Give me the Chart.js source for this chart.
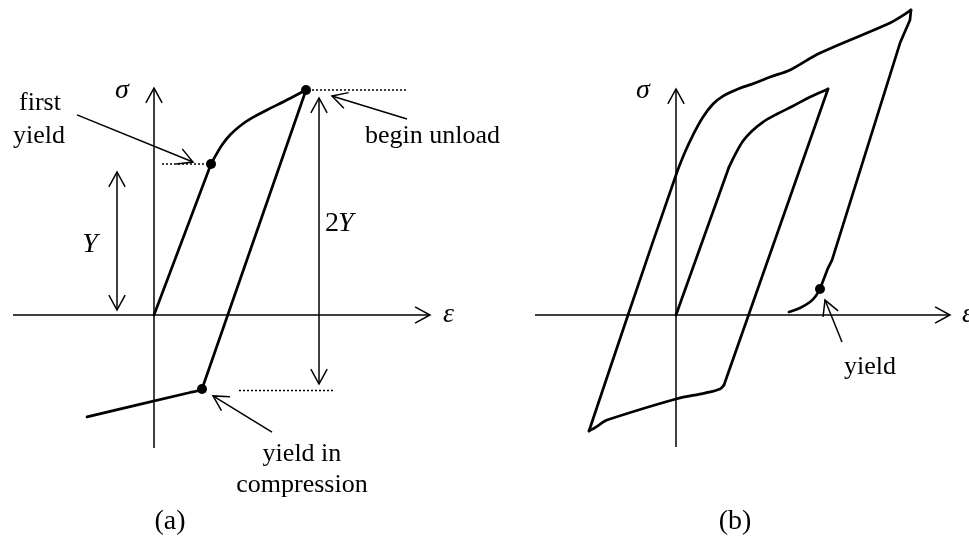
<!DOCTYPE html>
<html>
<head>
<meta charset="utf-8">
<script src="https://cdn.jsdelivr.net/npm/chart.js@4.4.1/dist/chart.umd.min.js"></script>
<style>
  html, body { margin: 0; padding: 0; background: #fff; }
  #wrap { position: relative; width: 969px; height: 540px; overflow: hidden; }
  canvas { position: absolute; top: 0; }
  #panelA { left: 0; }
  #panelB { left: 484px; }
</style>
</head>
<body>
<div id="wrap">
  <canvas id="panelA" width="560" height="540"></canvas>
  <canvas id="panelB" width="485" height="540"></canvas>
</div>
<script>
// strain in units of the first-yield strain, stress in units of Y

// (a) one tension / compression excursion
const aElastic = [[0, 0], [1.0, 1.0]];
const aHarden = [[1.0, 1.0], [1.088, 1.060], [1.193, 1.126], [1.333, 1.192], [1.509, 1.252],
                 [1.719, 1.305], [1.982, 1.358], [2.298, 1.417], [2.667, 1.49]];
const aUnload = [[2.667, 1.49], [0.842, -0.49]];
const aCompress = [[0.842, -0.49], [0.754, -0.503], [0.632, -0.513], [-1.175, -0.675]];
const aMarks = [[1.0, 1.0], [2.667, 1.49], [0.842, -0.49]];

// (b) cyclic loops
const bInner = [[0, 0], [0.930, 0.980]];
const bInnerHarden = [[0.930, 0.980], [1.035, 1.060], [1.175, 1.152], [1.333, 1.219], [1.526, 1.278],
                      [1.772, 1.331], [2.053, 1.384], [2.351, 1.444], [2.667, 1.497]];
const bInnerUnload = [[2.667, 1.497], [0.842, -0.464]];
const bCompress = [[0.842, -0.464], [0.772, -0.490], [0.509, -0.517], [0, -0.556], [-1.211, -0.695],
                   [-1.298, -0.715], [-1.404, -0.742], [-1.526, -0.768]];
const bOuterLoad = [[-1.526, -0.768], [-0.842, 0], [0, 0.927], [0.158, 1.079], [0.298, 1.192],
                    [0.474, 1.311], [0.649, 1.397], [0.825, 1.450], [1.088, 1.497], [1.386, 1.536],
                    [1.649, 1.576], [2.0, 1.623], [2.526, 1.735], [3.754, 1.934], [4.018, 1.993], [4.123, 2.020]];
const bOuterUnload = [[4.123, 2.020], [4.105, 1.954], [3.930, 1.801], [2.737, 0.364], [2.667, 0.311], [2.526, 0.172]];
const bReload = [[2.526, 0.172], [2.439, 0.119], [2.351, 0.086], [2.175, 0.046], [1.982, 0.020]];
const bMarks = [[2.526, 0.172]];

// pixels per unit on both panels
const PX_EPS = 57, PX_SIG = 151;

const pts = arr => arr.map(p => ({ x: p[0], y: p[1] }));

function curve(data, smooth) {
  return { data: pts(data), showLine: true, pointRadius: 0, borderColor: '#000',
           borderWidth: 2.7, tension: smooth ? 0.35 : 0, borderCapStyle: 'round', borderJoinStyle: 'round' };
}
function thin(data, heads) {
  return { data: pts(data), showLine: true, pointRadius: 0, borderColor: '#000',
           borderWidth: 1.5, heads: heads || [] };
}
function dotted(data) {
  return { data: pts(data), showLine: true, pointRadius: 0, borderColor: '#000',
           borderWidth: 1.5, borderDash: [2, 2] };
}
function marks(data) {
  return { data: pts(data), showLine: false, pointRadius: 5, pointBackgroundColor: '#000',
           pointBorderColor: '#000', pointBorderWidth: 0 };
}

// open V heads on the ends of thin lines
const arrowHeads = {
  id: 'arrowHeads',
  afterDatasetsDraw(chart) {
    const { ctx, scales: { x, y } } = chart;
    const L = 17, A = 0.5;
    chart.data.datasets.forEach(ds => {
      if (!ds.heads) return;
      ds.heads.forEach(end => {
        const n = ds.data.length;
        const tip = end === 'end' ? ds.data[n - 1] : ds.data[0];
        const base = end === 'end' ? ds.data[n - 2] : ds.data[1];
        const tx = x.getPixelForValue(tip.x), ty = y.getPixelForValue(tip.y);
        const bx = x.getPixelForValue(base.x), by = y.getPixelForValue(base.y);
        const ang = Math.atan2(ty - by, tx - bx);
        ctx.save();
        ctx.strokeStyle = '#000';
        ctx.lineWidth = ds.borderWidth;
        ctx.beginPath();
        ctx.moveTo(tx - L * Math.cos(ang - A), ty - L * Math.sin(ang - A));
        ctx.lineTo(tx, ty);
        ctx.lineTo(tx - L * Math.cos(ang + A), ty - L * Math.sin(ang + A));
        ctx.stroke();
        ctx.restore();
      });
    });
  }
};

// labels placed in data units
const figText = {
  id: 'figText',
  afterDraw(chart, args, opts) {
    const { ctx, scales: { x, y } } = chart;
    (opts.items || []).forEach(it => {
      ctx.save();
      ctx.fillStyle = '#000';
      ctx.font = it.font || '26px "Liberation Serif"';
      ctx.textAlign = it.align || 'center';
      ctx.textBaseline = 'middle';
      ctx.fillText(it.t, x.getPixelForValue(it.x), y.getPixelForValue(it.y));
      ctx.restore();
    });
  }
};

const SERIF = '26px "Liberation Serif"';
const ITAL = 'italic 28px "Liberation Serif"';

function makePanel(id, originX, originY, width, height, datasets, items) {
  return new Chart(document.getElementById(id), {
    type: 'scatter',
    data: { datasets: datasets },
    options: {
      responsive: false,
      animation: false,
      events: [],
      layout: { padding: 0, autoPadding: false },
      scales: {
        x: { type: 'linear', display: false, min: -originX / PX_EPS, max: (width - originX) / PX_EPS },
        y: { type: 'linear', display: false, min: -(height - originY) / PX_SIG, max: originY / PX_SIG }
      },
      plugins: { legend: { display: false }, tooltip: { enabled: false }, figText: { items: items } }
    },
    plugins: [arrowHeads, figText]
  });
}

makePanel('panelA', 154, 315, 560, 540, [
  thin([[-2.474, 0], [4.842, 0]], ['end']),
  thin([[0, -0.881], [0, 1.503]], ['end']),
  dotted([[0.140, 1.0], [0.930, 1.0]]),
  dotted([[2.772, 1.49], [4.456, 1.49]]),
  dotted([[1.491, -0.50], [3.175, -0.50]]),
  thin([[-0.649, 0.033], [-0.649, 0.947]], ['start', 'end']),
  thin([[2.895, -0.457], [2.895, 1.437]], ['start', 'end']),
  thin([[-1.351, 1.325], [0.684, 1.013]], ['end']),
  thin([[4.439, 1.298], [3.123, 1.450]], ['end']),
  thin([[2.070, -0.775], [1.035, -0.536]], ['end']),
  curve(aElastic, false),
  curve(aHarden, true),
  curve(aUnload, false),
  curve(aCompress, true),
  marks(aMarks)
], [
  { t: 'σ', x: -0.561, y: 1.483, font: ITAL },
  { t: 'ε', x: 5.07, y: 0, font: ITAL, align: 'left' },
  { t: 'first', x: -2.0, y: 1.404, font: SERIF },
  { t: 'yield', x: -2.018, y: 1.185, font: SERIF },
  { t: 'Y', x: -1.123, y: 0.464, font: ITAL },
  { t: '2', x: 3.0, y: 0.603, font: '28px "Liberation Serif"', align: 'left' },
  { t: 'Y', x: 3.228, y: 0.603, font: ITAL, align: 'left' },
  { t: 'begin unload', x: 3.702, y: 1.185, font: SERIF, align: 'left' },
  { t: 'yield in', x: 2.596, y: -0.921, font: SERIF },
  { t: 'compression', x: 2.596, y: -1.126, font: SERIF },
  { t: '(a)', x: 0.281, y: -1.371, font: '28px "Liberation Serif"' }
]);

makePanel('panelB', 192, 315, 485, 540, [
  thin([[-2.474, 0], [4.807, 0]], ['end']),
  thin([[0, -0.874], [0, 1.497]], ['end']),
  thin([[2.912, -0.179], [2.614, 0.099]], ['end']),
  curve(bInner, false),
  curve(bInnerHarden, true),
  curve(bInnerUnload, false),
  curve(bCompress, true),
  curve(bOuterLoad, true),
  curve(bOuterUnload, false),
  curve(bReload, true),
  marks(bMarks)
], [
  { t: 'σ', x: -0.579, y: 1.483, font: ITAL },
  { t: 'ε', x: 5.018, y: 0, font: ITAL, align: 'left' },
  { t: 'yield', x: 3.404, y: -0.344, font: SERIF },
  { t: '(b)', x: 1.035, y: -1.371, font: '28px "Liberation Serif"' }
]);
</script>
</body>
</html>
